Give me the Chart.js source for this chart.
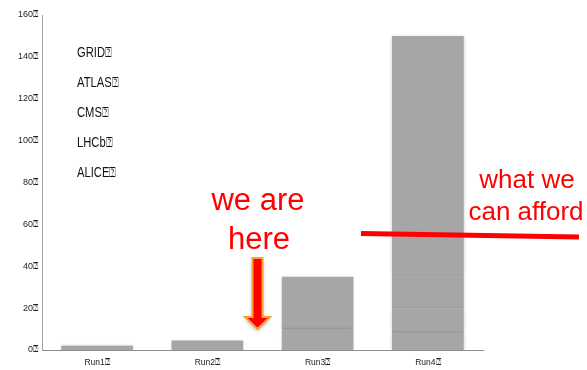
<!DOCTYPE html>
<html lang="en">
<head>
    <meta charset="UTF-8">
    <title>Runs</title>
    <script src="https://cdn.jsdelivr.net/npm/chart.js"></script>
    <style>
        body {
            margin: 0;
            background: #fff;
        }
        .wrap {
            width: 587px;
            height: 370px;
        }
    </style>
</head>
<body>
    <div class="wrap"><canvas id="runChart"></canvas></div>

    <script>
        // data, bottom of stack first
        const runs = ['Run1', 'Run2', 'Run3', 'Run4'];
        const alice = [2, 4.5, 10, 8];
        const lhcb = [0, 0, 0, 12];
        const cms = [0, 0, 0, 15];
        const atlas = [0, 0, 25, 0];
        const grid = [0, 0, 0, 115];
        const yTicks = [0, 20, 40, 60, 80, 100, 120, 140, 160];

        const box = '\u2370';
        const sans = "'Liberation Sans', Arial, sans-serif";
        const barGrey = '#a6a6a6';

        // soft edge on the bars
        const shadowPlugin = {
            id: 'barShadow',
            beforeDatasetsDraw(chart) {
                const ctx = chart.ctx;
                ctx.save();
                ctx.shadowColor = 'rgba(0,0,0,0.22)';
                ctx.shadowBlur = 3;
            },
            afterDatasetsDraw(chart) {
                chart.ctx.restore();
            }
        };

        // text-only legend, top of stack first (squeezed a bit, like a narrow face)
        const legendPlugin = {
            id: 'textLegend',
            afterDraw(chart) {
                const ctx = chart.ctx;
                ctx.save();
                ctx.font = '14px ' + sans;
                ctx.fillStyle = '#111';
                ctx.translate(77, 0);
                ctx.scale(0.8, 1);
                const sets = chart.data.datasets.slice().reverse();
                sets.forEach((ds, i) => {
                    ctx.fillText(ds.label + box, 0, 57 + i * 30);
                });
                ctx.restore();
            }
        };

        // red notes, line and arrow
        const notesPlugin = {
            id: 'notes',
            afterDraw(chart) {
                const ctx = chart.ctx;
                ctx.save();
                ctx.fillStyle = '#ff0000';
                ctx.textAlign = 'center';
                ctx.font = '31px ' + sans;
                ctx.fillText('we are', 258, 210);
                ctx.fillText('here', 259, 249);
                ctx.font = '26px ' + sans;
                ctx.fillText('what we', 527, 188);
                ctx.fillText('can afford', 526, 220);

                ctx.strokeStyle = '#ff0000';
                ctx.lineWidth = 5;
                ctx.beginPath();
                ctx.moveTo(361, 233.5);
                ctx.lineTo(579, 237);
                ctx.stroke();

                ctx.shadowColor = 'rgba(0,0,0,0.3)';
                ctx.shadowBlur = 4;
                ctx.shadowOffsetY = 2;
                ctx.beginPath();
                ctx.moveTo(252.5, 258);
                ctx.lineTo(262.5, 258);
                ctx.lineTo(262.5, 317);
                ctx.lineTo(270, 317);
                ctx.lineTo(257.5, 329);
                ctx.lineTo(245, 317);
                ctx.lineTo(252.5, 317);
                ctx.closePath();
                ctx.fillStyle = '#ff0000';
                ctx.fill();
                ctx.shadowColor = 'transparent';
                ctx.strokeStyle = '#f7a035';
                ctx.lineWidth = 2;
                ctx.stroke();
                ctx.restore();
            }
        };

        function makeSet(label, values) {
            return {
                label: label,
                data: values,
                backgroundColor: barGrey,
                borderWidth: 0,
                barPercentage: 0.65,
                categoryPercentage: 1
            };
        }

        new Chart(document.getElementById('runChart'), {
            type: 'bar',
            data: {
                labels: runs,
                datasets: [
                    makeSet('ALICE', alice),
                    makeSet('LHCb', lhcb),
                    makeSet('CMS', cms),
                    makeSet('ATLAS', atlas),
                    makeSet('GRID', grid)
                ]
            },
            options: {
                responsive: true,
                maintainAspectRatio: false,
                animation: false,
                layout: {
                    padding: { top: 15, right: 104, left: 0, bottom: 0 }
                },
                plugins: {
                    legend: { display: false },
                    tooltip: { enabled: false }
                },
                scales: {
                    x: {
                        stacked: true,
                        grid: { display: false, drawTicks: false },
                        border: { color: '#8c8c8c' },
                        ticks: {
                            color: '#222',
                            padding: 8,
                            font: { family: sans, size: 8.5 },
                            callback: function (v, i) { return runs[i] + box; }
                        },
                        afterFit: function (scale) { scale.height = 20; }
                    },
                    y: {
                        stacked: true,
                        min: yTicks[0],
                        max: yTicks[yTicks.length - 1],
                        afterBuildTicks: function (scale) {
                            scale.ticks = yTicks.map(v => ({ value: v }));
                        },
                        grid: { display: false, drawTicks: false },
                        border: { color: '#a0a0a0' },
                        ticks: {
                            color: '#222',
                            padding: 4,
                            font: { family: sans, size: 9 },
                            callback: v => v + box
                        },
                        afterFit: function (scale) { scale.width = 42; }
                    }
                }
            },
            plugins: [shadowPlugin, legendPlugin, notesPlugin]
        });
    </script>
</body>
</html>
